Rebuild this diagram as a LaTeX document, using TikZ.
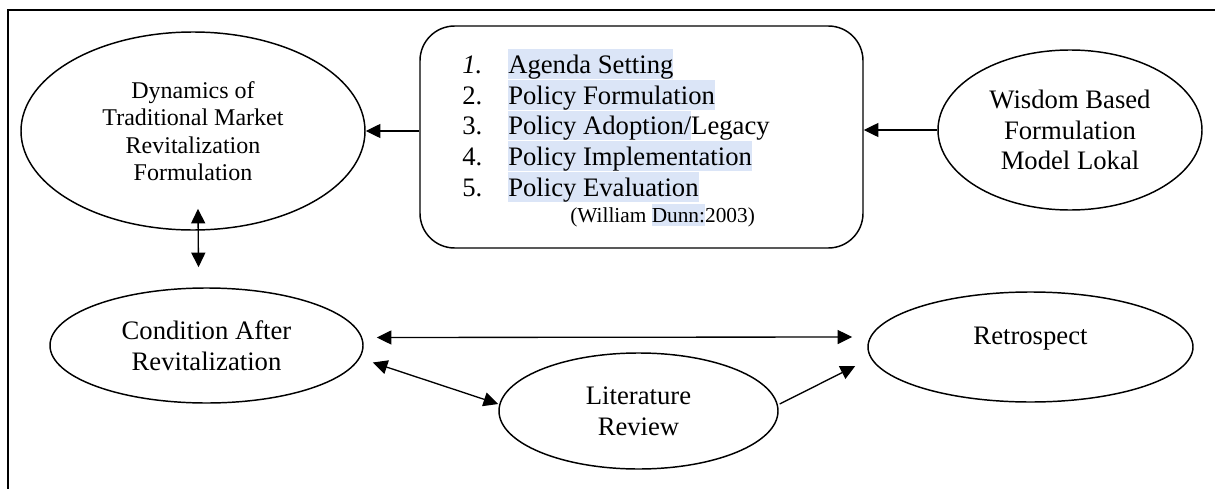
\documentclass[tikz,border=0pt]{standalone}
\usepackage{fontspec}
\setmainfont{Liberation Serif}
\usetikzlibrary{shapes.geometric,arrows.meta,calc}
\definecolor{hl}{RGB}{219,229,247}
\newcommand\hlbox[3]{{\setlength{\fboxsep}{0pt}\colorbox{hl}{\rule[-#2]{0pt}{#3}#1}}}
\begin{document}
\begin{tikzpicture}[x=0.75pt,y=-0.75pt,
  ell/.style={draw, line width=1.1pt, ellipse, inner sep=0pt, align=center},
  big/.style={font=\fontsize{20pt}{23pt}\selectfont},
  small/.style={font=\fontsize{18pt}{20.6pt}\selectfont},
  arr/.style={line width=1pt, -{Triangle[length=11pt,width=10.5pt]}},
  darr/.style={line width=1pt, {Triangle[length=11pt,width=10.5pt]}-{Triangle[length=11pt,width=10.5pt]}},
  item/.style={anchor=base west, inner sep=0pt, font=\fontsize{20pt}{23pt}\selectfont}]
\useasboundingbox (0,0) rectangle (1215,489);
\fill[white] (0,0) rectangle (1215,489);
\draw[line width=2pt] (1216,10) -- (8,10) -- (8,490);

\node[ell, small, minimum width=258pt, minimum height=148.5pt] (dyn) at (193,131)
  {Dynamics of\\Traditional Market\\Revitalization\\Formulation};
\node[draw, line width=1.1pt, rectangle, rounded corners=26pt, minimum width=332.25pt, minimum height=166.5pt] (box) at (641.5,137) {};
\node[ell, big, minimum width=198pt, minimum height=120pt] (wis) at (1070,130)
  {Wisdom Based\\Formulation\\Model Lokal};
\node[ell, big, minimum width=234.75pt, minimum height=86.25pt] (cond) at (206.5,345.5)
  {Condition After\\Revitalization};
\node[ell, big, minimum width=209.25pt, minimum height=87pt] (lit) at (638.5,411)
  {Literature\\Review};
\node[ell, big, minimum width=243.75pt, minimum height=82.5pt] (retro) at (1030.5,347)
  {Retrospect\\[-6pt]\mbox{}};

\node[item] (n1) at (462,73) {\textit{1.}};
\node[item] (t1) at (508,73) {\hlbox{Agenda Setting}{3pt}{21pt}};
\node[item] (n2) at (462,104) {2.};
\node[item] (t2) at (508,104) {\hlbox{Policy Formulation}{3pt}{21pt}};
\node[item] (n3) at (462,134.5) {3.};
\node[item] (t3) at (508,134.5) {\hlbox{Policy Adoption/}{3pt}{21pt}Legacy};
\node[item] (n4) at (462,165) {4.};
\node[item] (t4) at (508,165) {\hlbox{Policy Implementation}{3pt}{21pt}};
\node[item] (n5) at (462,196) {5.};
\node[item] (t5) at (508,196) {\hlbox{Policy Evaluation}{3pt}{21pt}};
\node[item, font=\fontsize{16pt}{18pt}\selectfont] (cite) at (570,222) {(William \hlbox{Dunn:}{3pt}{16.5pt}2003)};

\draw[arr] (box.west |- dyn.east) -- (dyn.east);
\draw[arr] (wis.west) -- (box.east |- wis.west);
\draw[darr] ($(dyn.south)+(5,-22)$) -- ($(cond.north)+(-8,-20)$);
\draw[darr] ($(cond.east)+(13,-8)$) -- ($(retro.west)+(-15,-10)$);
\draw[darr] ($(cond.east)+(9,17)$) -- ($(lit.west)+(0,-7)$);
\draw[arr] ($(lit.east)+(1,-7)$) -- ($(retro.west)+(-12,19)$);
\end{tikzpicture}
\end{document}
